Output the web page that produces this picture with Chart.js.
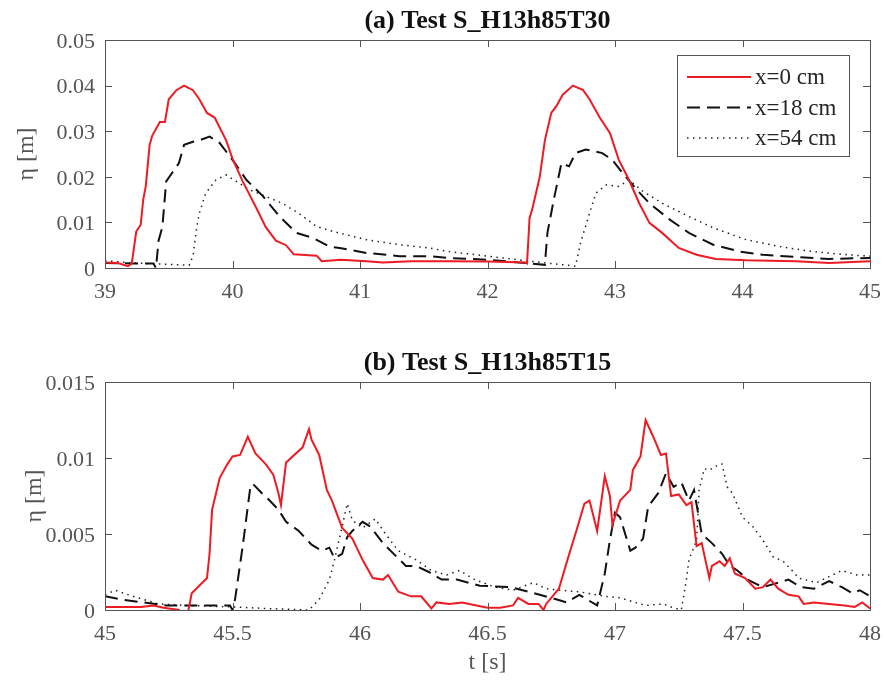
<!doctype html>
<html>
  <head>
    <title>Wave elevation</title>
    <style>
      body { margin: 0; background: #fff; }
      .panel { position: absolute; left: 0; width: 886px; }
    </style>
  </head>
  <body>
    <div class="panel" style="top:0;height:342px"><canvas id="chartA" width="886" height="342"></canvas></div>
    <div class="panel" style="top:342px;height:343px"><canvas id="chartB" width="886" height="343"></canvas></div>
  </body>
  <script src="https://cdn.jsdelivr.net/npm/chart.js"></script>
  <script>
    // series labels
    const seriesLabels = ['x=0 cm', 'x=18 cm', 'x=54 cm'];

    // (a) Test S_H13h85T30 : [t (s), eta (m)]
    const redA = [[39,0.0012],[39.1,0.0011],[39.18,0.0004],[39.21,0.001],[39.245,0.008],[39.28,0.0095],[39.3,0.015],[39.32,0.018],
      [39.35,0.027],[39.37,0.029],[39.43,0.032],[39.47,0.032],[39.5,0.037],[39.56,0.039],[39.62,0.040],[39.69,0.039],[39.74,0.037],
      [39.8,0.034],[39.86,0.033],[39.95,0.028],[40.0,0.024],[40.08,0.019],[40.19,0.013],[40.26,0.009],[40.34,0.006],[40.42,0.005],
      [40.48,0.003],[40.6,0.0028],[40.66,0.0027],[40.7,0.0015],[40.85,0.0018],[41.05,0.0015],[41.18,0.0012],[41.4,0.0015],
      [41.7,0.0015],[42.0,0.0014],[42.3,0.0012],[42.31,0.001],[42.33,0.011],[42.35,0.0128],[42.41,0.020],[42.45,0.028],[42.5,0.034],
      [42.54,0.0355],[42.59,0.038],[42.67,0.040],[42.75,0.039],[42.8,0.037],[42.88,0.033],[42.96,0.0296],[43.03,0.0237],
      [43.11,0.0193],[43.19,0.0142],[43.27,0.0099],[43.37,0.0077],[43.5,0.0044],[43.64,0.0029],[43.79,0.002],[44.03,0.0017],
      [44.42,0.0015],[44.68,0.0011],[45,0.0015]];
    const dashA = [[39,0.0011],[39.2,0.001],[39.38,0.001],[39.4,0],[39.42,0.006],[39.45,0.009],[39.48,0.019],[39.53,0.021],
      [39.58,0.023],[39.62,0.027],[39.69,0.0277],[39.74,0.028],[39.82,0.0288],[39.9,0.0274],[40.0,0.0237],[40.11,0.0193],
      [40.24,0.0157],[40.37,0.0113],[40.5,0.0077],[40.63,0.0066],[40.76,0.0047],[40.84,0.0044],[41.05,0.0033],[41.31,0.0026],
      [41.54,0.0026],[41.7,0.0022],[42,0.0018],[42.3,0.0011],[42.45,0.0007],[42.47,0.0077],[42.52,0.015],[42.58,0.023],
      [42.64,0.0223],[42.69,0.0252],[42.77,0.026],[42.85,0.0255],[42.9,0.0252],[42.98,0.0237],[43.06,0.0208],[43.17,0.0172],
      [43.27,0.0142],[43.43,0.0106],[43.58,0.0077],[43.77,0.0051],[43.98,0.0036],[44.16,0.0029],[44.42,0.0024],[44.68,0.002],
      [45,0.0022]];
    const dotA = [[39,0.0016],[39.22,0.0011],[39.5,0.0008],[39.66,0.0006],[39.69,0.0026],[39.72,0.009],[39.74,0.012],
      [39.79,0.0164],[39.87,0.0193],[39.95,0.0204],[40.03,0.019],[40.13,0.0172],[40.26,0.0157],[40.39,0.0142],[40.52,0.012],
      [40.66,0.0091],[40.79,0.008],[41.05,0.0062],[41.31,0.0051],[41.54,0.0044],[41.7,0.0036],[42,0.0026],[42.33,0.0015],
      [42.69,0.0004],[42.73,0.0055],[42.8,0.012],[42.85,0.0164],[42.93,0.0182],[43.03,0.0179],[43.11,0.0193],[43.22,0.0168],
      [43.37,0.0142],[43.58,0.0113],[43.77,0.0088],[44.03,0.0062],[44.29,0.0047],[44.55,0.0036],[44.82,0.0029],[45,0.0026]];

    // (b) Test S_H13h85T15
    const redB = [[45,0.0002],[45.14,0.0002],[45.19,0.0003],[45.23,0.00015],[45.29,0],[45.31,-0.0004],[45.325,-0.0002],
      [45.34,0.0011],[45.4,0.0021],[45.41,0.0037],[45.42,0.0066],[45.45,0.0087],[45.48,0.0096],[45.5,0.0101],[45.53,0.0102],
      [45.56,0.0114],[45.59,0.0103],[45.63,0.0096],[45.66,0.0089],[45.68,0.0077],[45.69,0.0069],[45.71,0.0097],[45.775,0.0107],
      [45.8,0.0119],[45.81,0.0112],[45.84,0.0102],[45.87,0.0079],[45.89,0.0072],[45.93,0.0054],[45.97,0.0047],[46.01,0.0033],
      [46.05,0.0021],[46.09,0.002],[46.11,0.0023],[46.15,0.0012],[46.2,0.0009],[46.24,0.0009],[46.28,0.0001],[46.3,0.0005],
      [46.35,0.0004],[46.4,0.0005],[46.5,0.00015],[46.55,0.00015],[46.6,0.0003],[46.62,0.0008],[46.66,0.0004],[46.7,0.0004],
      [46.72,0],[46.73,0.0004],[46.78,0.0014],[46.81,0.0031],[46.85,0.0053],[46.88,0.007],[46.9,0.0072],[46.93,0.0052],
      [46.96,0.0088],[46.98,0.0075],[46.99,0.0056],[47.02,0.0072],[47.06,0.0079],[47.07,0.0092],[47.1,0.0101],[47.12,0.0125],
      [47.15,0.0114],[47.18,0.0102],[47.2,0.0103],[47.22,0.0075],[47.25,0.0076],[47.28,0.0069],[47.3,0.0071],[47.32,0.0042],
      [47.34,0.0044],[47.37,0.0021],[47.38,0.0029],[47.41,0.0032],[47.43,0.0029],[47.45,0.0034],[47.47,0.0024],[47.51,0.0021],
      [47.55,0.0014],[47.58,0.0015],[47.61,0.002],[47.64,0.0014],[47.68,0.001],[47.72,0.0009],[47.74,0.0004],[47.78,0.0005],
      [47.84,0.0004],[47.9,0.0003],[47.94,0.0002],[47.97,0.0005],[48,0.0001]];
    const dashB = [[45,0.0009],[45.06,0.0007],[45.15,0.0005],[45.24,0.0003],[45.32,0.0003],[45.42,0.0003],[45.49,0.0003],
      [45.5,0],[45.51,0.0007],[45.54,0.0042],[45.57,0.0081],[45.58,0.0083],[45.62,0.0076],[45.64,0.0073],[45.68,0.0066],
      [45.71,0.0058],[45.76,0.0052],[45.81,0.0043],[45.85,0.0039],[45.88,0.0041],[45.9,0.0034],[45.93,0.0037],[45.95,0.0048],
      [45.97,0.0052],[46.01,0.0058],[46.04,0.0055],[46.09,0.0044],[46.15,0.0034],[46.18,0.0029],[46.22,0.0029],[46.27,0.0025],
      [46.32,0.002],[46.38,0.002],[46.47,0.0016],[46.59,0.0015],[46.66,0.0012],[46.75,0.0008],[46.81,0.0005],[46.86,0.001],
      [46.93,0.0003],[46.96,0.0024],[46.98,0.0046],[47.0,0.0064],[47.02,0.0061],[47.06,0.0039],[47.08,0.0041],[47.11,0.0047],
      [47.13,0.0068],[47.17,0.0077],[47.2,0.009],[47.23,0.0081],[47.26,0.0084],[47.29,0.0072],[47.31,0.0079],[47.34,0.005],
      [47.38,0.0044],[47.42,0.0037],[47.45,0.0029],[47.48,0.0026],[47.52,0.002],[47.58,0.0015],[47.64,0.0018],[47.68,0.002],
      [47.73,0.0015],[47.78,0.0014],[47.84,0.0019],[47.89,0.0015],[47.93,0.0011],[47.96,0.0013],[48,0.0009]];
    const dotB = [[45,0.001],[45.04,0.0013],[45.11,0.0009],[45.21,0.0004],[45.32,0.0003],[45.5,0.0002],[45.63,0.0001],
      [45.8,0],[45.84,0.0007],[45.88,0.002],[45.9,0.0033],[45.93,0.0055],[45.95,0.007],[45.97,0.0059],[46.01,0.0054],
      [46.06,0.006],[46.1,0.005],[46.15,0.0039],[46.22,0.0033],[46.28,0.0026],[46.34,0.0023],[46.39,0.0026],[46.45,0.002],
      [46.53,0.0015],[46.6,0.0013],[46.68,0.0018],[46.73,0.0014],[46.79,0.0013],[46.86,0.0012],[46.96,0.0009],[47.02,0.0008],
      [47.12,0.0003],[47.19,0.0004],[47.22,0.0002],[47.26,0],[47.28,0.002],[47.29,0.0033],[47.32,0.0046],[47.33,0.0079],
      [47.35,0.0093],[47.37,0.0092],[47.4,0.0095],[47.42,0.0096],[47.44,0.0081],[47.46,0.0077],[47.5,0.0061],[47.54,0.0055],
      [47.58,0.0046],[47.62,0.0035],[47.66,0.0032],[47.7,0.0025],[47.72,0.0021],[47.79,0.0018],[47.84,0.0022],[47.89,0.0026],
      [47.95,0.0023],[48,0.0023]];

    // tick values
    const xTicksA = [39, 40, 41, 42, 43, 44, 45];
    const yTicksA = [0, 0.01, 0.02, 0.03, 0.04, 0.05];
    const xTicksB = [45, 45.5, 46, 46.5, 47, 47.5, 48];
    const yTicksB = [0, 0.005, 0.01, 0.015];

    const serif = "'Liberation Serif', 'Times New Roman', serif";
    const axisGray = '#555';

    function toXY(arr) {
      return arr.map(p => ({x: p[0], y: p[1]}));
    }

    function makeDatasets(red, dash, dot) {
      return [
        {label: seriesLabels[0], data: toXY(red), borderColor: '#ee1b22', borderWidth: 2, borderDash: []},
        {label: seriesLabels[1], data: toXY(dash), borderColor: '#111', borderWidth: 2, borderDash: [13, 7]},
        {label: seriesLabels[2], data: toXY(dot), borderColor: '#222', borderWidth: 1.5, borderDash: [1.5, 4.5]}
      ].map(d => Object.assign(d, {showLine: true, pointRadius: 0, tension: 0, fill: false}));
    }

    // matlab style box with inward ticks
    const boxPlugin = {
      id: 'box',
      afterDraw(chart) {
        const c = chart.ctx, a = chart.chartArea;
        const xs = chart.scales.x, ys = chart.scales.y;
        c.save();
        c.strokeStyle = axisGray;
        c.lineWidth = 1;
        c.beginPath();
        xs.ticks.forEach(t => {
          const px = Math.round(xs.getPixelForValue(t.value)) + 0.5;
          c.moveTo(px, a.bottom); c.lineTo(px, a.bottom - 7);
          c.moveTo(px, a.top); c.lineTo(px, a.top + 7);
        });
        ys.ticks.forEach(t => {
          const py = Math.round(ys.getPixelForValue(t.value)) + 0.5;
          c.moveTo(a.left, py); c.lineTo(a.left + 7, py);
          c.moveTo(a.right, py); c.lineTo(a.right - 7, py);
        });
        c.stroke();
        c.strokeRect(Math.round(a.left) + 0.5, Math.round(a.top) + 0.5,
          Math.round(a.right - a.left), Math.round(a.bottom - a.top));
        c.restore();
      }
    };

    // legend drawn inside the axes, top right
    const innerLegend = {
      id: 'innerLegend',
      afterDatasetsDraw(chart, args, opts) {
        if (!opts.show) return;
        const c = chart.ctx, a = chart.chartArea;
        const bx = a.right - 193, by = a.top + 15, bw = 172, bh = 101;
        c.save();
        c.fillStyle = '#fff';
        c.fillRect(bx, by, bw, bh);
        c.strokeStyle = axisGray;
        c.lineWidth = 1;
        c.strokeRect(bx + 0.5, by + 0.5, bw, bh);
        c.font = '23px ' + serif;
        c.textBaseline = 'middle';
        c.fillStyle = '#262626';
        chart.data.datasets.forEach((ds, i) => {
          const y = by + 22 + i * 30.5;
          c.strokeStyle = ds.borderColor;
          c.lineWidth = ds.borderWidth;
          c.setLineDash(ds.borderDash);
          c.beginPath();
          c.moveTo(bx + 10, y); c.lineTo(bx + 74, y);
          c.stroke();
          c.setLineDash([]);
          c.fillText(ds.label, bx + 78, y + 1);
        });
        c.restore();
      }
    };

    function makeChart(id, title, datasets, xTicks, yTicks, opts) {
      return new Chart(document.getElementById(id), {
        type: 'scatter',
        data: {datasets: datasets},
        plugins: [boxPlugin, innerLegend],
        options: {
          responsive: false,
          animation: false,
          devicePixelRatio: 1,
          layout: {padding: {top: 0, right: 16, left: 0, bottom: 0}},
          plugins: {
            legend: {display: false},
            tooltip: {enabled: false},
            innerLegend: {show: opts.legend},
            title: {
              display: true,
              text: title,
              fullSize: false,
              color: '#111',
              font: {family: serif, size: 26, weight: 'bold', lineHeight: '28px'},
              padding: {top: 7, bottom: 5}
            }
          },
          scales: {
            x: {
              type: 'linear',
              min: xTicks[0],
              max: xTicks[xTicks.length - 1],
              afterBuildTicks: s => { s.ticks = xTicks.map(v => ({value: v})); },
              afterFit: s => { s.height = opts.xh; s.paddingLeft = 0; s.paddingRight = 0; },
              grid: {display: false, drawTicks: false},
              border: {display: false},
              ticks: {
                color: axisGray,
                padding: 11,
                maxRotation: 0,
                autoSkip: false,
                font: {family: serif, size: 22},
                callback: v => String(v)
              },
              title: {
                display: opts.xTitle,
                text: 't [s]',
                color: axisGray,
                font: {family: serif, size: 24, lineHeight: '28px'},
                padding: {top: 0, bottom: 8}
              }
            },
            y: {
              type: 'linear',
              min: yTicks[0],
              max: yTicks[yTicks.length - 1],
              afterBuildTicks: s => { s.ticks = yTicks.map(v => ({value: v})); },
              afterFit: s => { s.width = 105; },
              grid: {display: false, drawTicks: false},
              border: {display: false},
              ticks: {
                color: axisGray,
                padding: 10,
                labelOffset: 2,
                autoSkip: false,
                font: {family: serif, size: 22},
                callback: v => String(v)
              },
              title: {
                display: true,
                text: 'η [m]',
                color: axisGray,
                font: {family: serif, size: 24, lineHeight: '28px'},
                padding: {top: opts.yPad, bottom: 0}
              }
            }
          }
        }
      });
    }

    makeChart('chartA', '(a) Test S_H13h85T30', makeDatasets(redA, dashA, dotA), xTicksA, yTicksA,
      {legend: true, xTitle: false, xh: 74, yPad: 13});
    makeChart('chartB', '(b) Test S_H13h85T15', makeDatasets(redB, dashB, dotB), xTicksB, yTicksB,
      {legend: false, xTitle: true, xh: 75, yPad: 21});
  </script>
</html>
